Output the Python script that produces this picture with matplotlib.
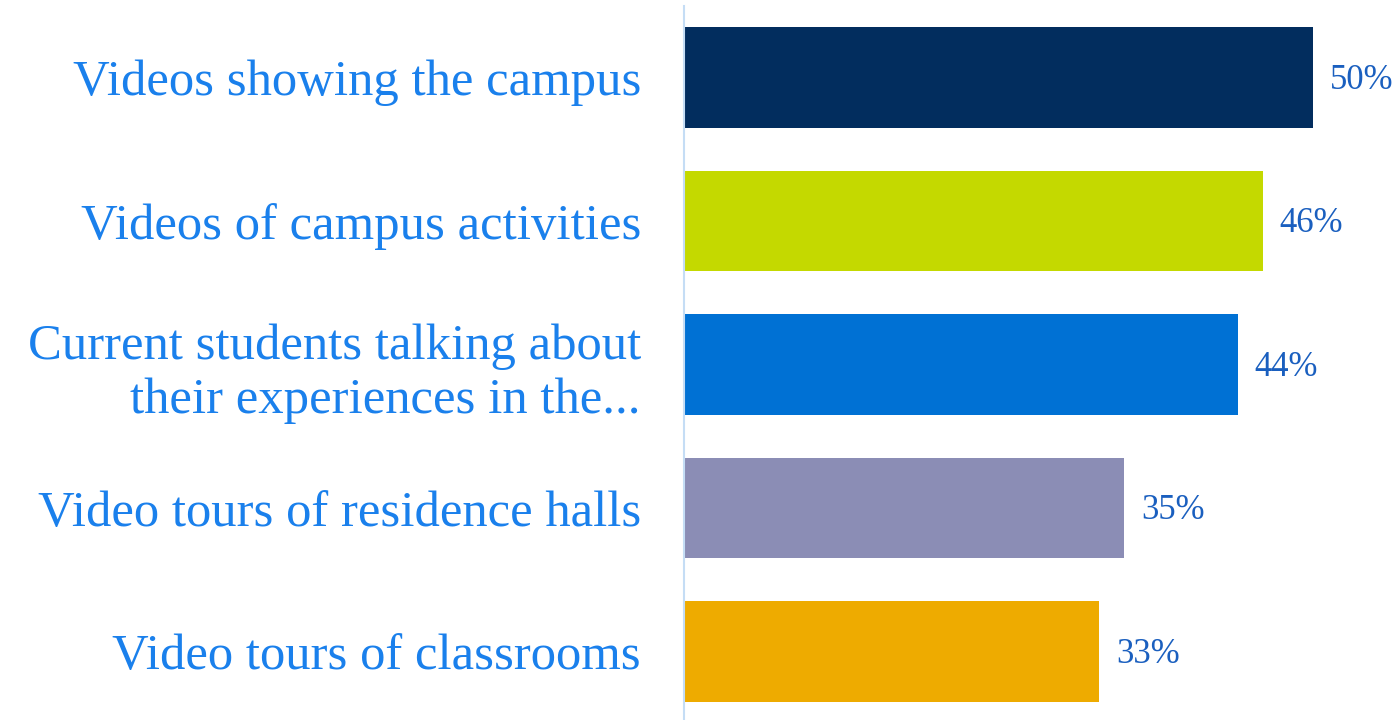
import matplotlib
matplotlib.use('Agg')

import matplotlib.pyplot as plt

categories = [
    "Videos showing the campus",
    "Videos of campus activities",
    "Current students talking about\ntheir experiences in the...",
    "Video tours of residence halls",
    "Video tours of classrooms",
]
values = [50, 46, 44, 35, 33]
colors = ["#022d5e", "#c4d900", "#0071d4", "#8b8db5", "#eeab00"]

plt.rcParams['font.family'] = ['Liberation Serif', 'DejaVu Serif']

fig = plt.figure(figsize=(13.97, 7.2), dpi=100)
ax = fig.add_axes([684 / 1397, 0, 713 / 1397, 714 / 720])

pos = list(range(len(categories)))
bars = ax.barh(pos, values, height=0.70, color=colors, zorder=2)

ax.set_xlim(0, 713 / 12.58)
ax.set_ylim(4.477, -0.498)

for bar, v in zip(bars, values):
    ax.text(bar.get_width() + 1.35, bar.get_y() + bar.get_height() / 2 + 0.02, f"{v}%",
            va='center', ha='left', fontsize=25, color="#1a5fbf")

ax.set_yticks(pos)
ax.set_yticklabels(categories, fontsize=36.5, color="#1a80ec", linespacing=1.2)
ax.tick_params(axis='y', length=0, pad=31)
ax.set_xticks([])

for side in ['top', 'right', 'bottom']:
    ax.spines[side].set_visible(False)
ax.spines['left'].set_color("#c5ddf5")
ax.spines['left'].set_linewidth(1.5)

fig.savefig("out.png", dpi=100)
